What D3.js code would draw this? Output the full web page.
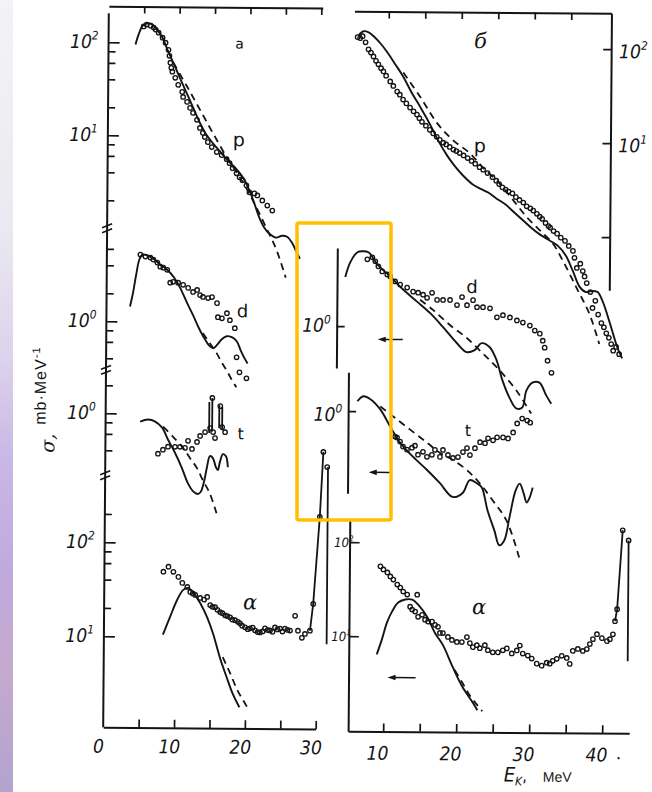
<!DOCTYPE html>
<html>
<head>
<meta charset="utf-8">
<script src="https://cdn.jsdelivr.net/npm/d3@7/dist/d3.min.js"></script>
<style>
  html, body { margin: 0; padding: 0; background: #ffffff; }
  svg { display: block; }
</style>
</head>
<body>
<svg id="fig" width="652" height="792"></svg>
<script>
// Energy spectra of p, d, t and alpha particles: points = experiment,
// solid = calculation, dashed = equilibrium (evaporation) estimate.
// Each pair is [E (MeV), sigma (mb/MeV)].

// ---------- panel a (left) ----------
const pA_exp = [[4.94,149],[5.36,156],[5.93,152],[6.35,145],[6.64,138],[7.06,128],[7.62,113],[8.05,100],[8.47,84],[8.61,72.4],[8.75,61],[8.89,53.8],[9.04,48.8],[9.46,42],[9.88,35.3],[10.45,29.7],[10.59,26.2],[11.15,23.2],[11.58,20],[12.0,17.7],[12.57,14.9],[12.99,12.2],[13.41,10.8],[13.69,9.75],[14.12,8.6],[14.68,7.62],[15.39,6.73],[16.09,6.25],[16.8,5.66],[17.22,5.13],[17.65,4.53],[18.21,4.0],[18.64,3.62],[19.06,3.37],[19.62,2.97],[20.05,2.5],[20.75,2.44],[21.18,2.32],[21.88,2.05],[22.59,1.81],[23.3,1.6]];
const pA_calc = [[3.81,95],[4.24,122],[4.8,152],[5.36,160],[5.93,160],[6.49,149],[7.06,131],[7.62,113],[8.33,84],[9.04,64],[9.6,51.3],[10.17,41],[10.87,31.3],[11.58,23.8],[12.28,18.1],[12.99,13.8],[13.84,10.5],[14.82,8.4],[15.81,6.9],[16.94,5.5],[18.07,4.53],[19.2,3.53],[20.05,2.62],[20.75,1.91],[21.46,1.35],[22.17,1.05],[22.87,0.906],[23.86,0.82],[24.71,0.86],[25.41,0.84],[26.12,0.725],[26.68,0.594],[27.25,0.488]];
const pA_equil = [[9.18,61],[11.15,33.7],[12.99,19.1],[14.82,10.8],[16.8,5.94],[18.21,4.1],[19.62,2.76],[21.04,1.73],[22.45,1.05],[23.86,0.625],[25.27,0.305]];

const dA_exp = [[4.73,5.25],[5.44,5.0],[6.14,4.88],[6.57,4.64],[7.13,4.31],[7.55,3.9],[7.98,3.81],[8.54,3.62],[8.97,2.63],[9.39,2.69],[10.09,2.63],[10.8,2.5],[11.51,2.32],[12.21,2.1],[12.78,2.21],[13.2,1.95],[13.62,1.86],[14.33,1.81],[14.89,1.86],[15.6,1.6],[15.74,1.13],[16.31,1.1],[17.01,1.25],[17.44,1.05],[18.14,0.862],[18.42,0.42],[18.85,0.29],[19.84,0.25]];
const dA_calc = [[3.32,1.45],[3.74,2.05],[4.16,3.2],[4.59,4.64],[5.01,5.25],[5.72,5.13],[6.57,4.76],[7.55,4.1],[8.54,3.62],[9.53,2.97],[10.38,2.32],[11.37,1.6],[12.21,1.19],[13.06,0.862],[13.91,0.656],[14.61,0.552],[15.18,0.525],[15.74,0.58],[16.31,0.656],[17.01,0.707],[17.72,0.69],[18.42,0.625],[18.99,0.5],[19.55,0.41],[19.98,0.362]];
const dA_equil = [[13.62,0.762],[14.61,0.594],[15.6,0.464],[16.31,0.371],[17.01,0.305],[17.72,0.244],[18.42,0.2]];

const tA_exp = [[7.43,0.371],[8.13,0.41],[8.84,0.442],[9.83,0.442],[10.53,0.442],[11.24,0.431],[11.66,0.513],[12.23,0.42],[12.93,0.5],[13.36,0.58],[14.06,0.64],[14.77,0.707],[15.05,1.49],[15.19,0.64],[15.47,0.552],[16.18,1.22],[16.46,0.725],[16.88,0.64]];
// narrow peaks: [E, top, bottom]
const tA_peaks = [[14.63,1.35,0.625],[15.05,1.49,0.65],[16.04,1.25,0.71],[16.46,1.19,0.67]];
const tA_calc = [[4.88,0.82],[6.01,0.862],[7.0,0.82],[7.99,0.707],[8.84,0.525],[9.83,0.381],[10.81,0.263],[11.66,0.181],[12.37,0.149],[13.07,0.138],[13.5,0.145],[13.92,0.181],[14.34,0.263],[14.77,0.353],[15.19,0.336],[15.62,0.269],[15.9,0.25],[16.18,0.305],[16.6,0.371],[17.03,0.353],[17.31,0.269]];
const tA_equil = [[8.13,0.725],[9.54,0.566],[10.96,0.431],[11.94,0.336],[12.93,0.263],[13.78,0.195],[14.77,0.1415],[15.76,0.086]];

const aA_exp = [[8.33,49.1],[9.04,55.6],[9.74,49.1],[10.45,43.4],[11.01,37.5],[11.72,34],[12.14,30.1],[12.5,29],[12.85,28],[13.55,26],[14.1,25],[14.54,26.7],[14.97,21.9],[15.3,21],[15.67,20.8],[16.0,19.5],[16.38,18.5],[16.7,18],[17.08,17.1],[17.4,16.8],[17.79,16.3],[18.1,15.4],[18.5,15.2],[18.9,14.6],[19.2,14.1],[19.5,13.3],[19.91,12.8],[20.3,12.2],[20.61,12.5],[21.0,12.7],[21.32,11.9],[21.7,11.4],[22.02,11.3],[22.4,11.6],[22.73,12.5],[23.1,12.0],[23.44,11.9],[23.8,11.5],[24.14,12.8],[24.5,12.2],[24.85,12.5],[25.2,11.6],[25.55,12.5],[25.9,12.1],[26.26,11.9],[26.97,17.1],[27.39,11.9],[27.95,10],[28.38,11],[29.08,11.9],[29.51,23],[30.35,194],[30.78,953],[31.34,659]];
const aA_peak = [[29.08,11.9],[29.51,23],[30.35,194],[30.78,953]];
const aA_drop = [[31.45,659],[31.45,8.6]];
const aA_calc = [[8.33,10.5],[9.32,16.3],[10.31,24.8],[11.15,31.6],[11.86,33.2],[12.57,29.4],[13.55,23],[14.54,16.3],[15.39,11],[16.38,6.12],[17.37,3.75],[18.21,2.54],[19.2,1.8]];
const aA_equil = [[16.8,6.12],[17.79,4.25],[18.92,2.73],[20.33,1.8]];

// ---------- panel б (right) ----------
const pB_exp = [[5.75,128],[6.1,125],[6.44,131],[6.85,113],[7.26,95],[7.6,88],[7.95,80],[8.3,72],[8.63,66],[9.0,60],[9.32,55.6],[9.7,50],[10.27,43.5],[10.7,39],[11.23,34],[11.6,31.5],[12.05,28],[12.5,25.5],[13.01,23],[13.5,21],[13.97,19.4],[14.3,17.8],[14.66,16.3],[15.2,14.8],[15.75,13.4],[16.2,12.3],[16.7,11.3],[17.12,10.5],[17.6,9.8],[18.0,9.4],[18.49,8.85],[19.0,8.3],[19.4,8.0],[19.86,7.64],[20.4,7.2],[20.96,6.76],[21.5,6.3],[22.0,5.9],[22.6,5.42],[23.1,5.1],[23.7,4.7],[24.38,4.25],[24.9,3.9],[25.3,3.6],[25.75,3.32],[26.2,3.15],[26.6,3.0],[27.12,2.87],[27.6,2.62],[28.1,2.45],[28.63,2.3],[29.1,2.1],[29.6,2.0],[30.0,1.89],[30.5,1.75],[30.9,1.63],[31.23,1.55],[31.7,1.4],[32.1,1.3],[32.33,1.25],[32.8,1.15],[33.29,1.08],[33.8,0.98],[34.38,0.906],[34.9,0.8],[35.48,0.71],[35.7,0.6],[36.03,0.468],[36.5,0.52],[36.85,0.434],[37.1,0.38],[37.4,0.324],[37.9,0.26],[38.22,0.176],[38.6,0.21],[39.0,0.15],[39.45,0.122],[39.8,0.11],[40.14,0.095],[40.5,0.085],[40.82,0.073],[41.1,0.062],[41.5,0.068],[41.92,0.057]];
const pB_calc = [[5.89,134],[6.58,148],[7.26,144],[7.95,131],[8.9,110],[9.86,88.5],[10.96,66],[12.05,49],[13.15,34],[14.38,23.6],[15.34,17.6],[16.16,13.4],[16.85,10.5],[18.08,7.28],[19.18,5.56],[20.27,4.46],[21.64,3.57],[22.88,3.16],[23.97,2.87],[24.93,2.53],[26.16,2.19],[27.26,1.84],[28.63,1.48],[29.86,1.22],[30.96,1.05],[32.33,0.906],[33.42,0.8],[34.52,0.628],[35.48,0.434],[36.44,0.294],[37.26,0.26],[38.08,0.267],[38.9,0.26],[39.59,0.208],[40.27,0.148],[40.96,0.1],[41.64,0.068],[42.33,0.0516]];
const pB_equil = [[12.05,54.2],[14.38,30.1],[16.71,15.9],[18.9,10.5],[21.23,7.64],[23.01,5.42],[25.34,3.66],[27.26,2.42],[29.18,1.59],[30.96,1.16],[32.74,0.843],[34.11,0.556],[36.03,0.286],[37.81,0.152],[39.18,0.0728]];

const dB_exp = [[7.33,5.25],[8.01,5.52],[8.42,5.0],[8.84,4.42],[9.38,3.9],[10.07,3.62],[10.48,3.45],[11.16,3.05],[11.85,2.83],[12.81,2.63],[13.63,2.38],[14.32,2.32],[15.0,2.21],[15.55,2.05],[16.23,2.32],[16.92,1.95],[17.74,1.95],[18.7,1.95],[19.66,1.72],[20.34,2.1],[21.03,1.72],[21.85,1.95],[22.4,1.64],[23.22,1.64],[24.18,1.6],[25.14,1.28],[25.96,1.35],[26.92,1.28],[27.88,1.19],[28.7,1.13],[29.66,1.05],[30.34,0.929],[31.03,0.862],[31.44,0.725],[31.71,0.61],[32.12,0.442],[32.67,0.328]];
const dB_calc = [[4.32,3.37],[5.0,4.88],[5.96,6.25],[6.64,6.4],[7.47,6.25],[8.7,4.64],[10.48,3.45],[12.26,2.5],[14.18,1.86],[15.96,1.41],[17.74,1.0],[19.66,0.673],[21.03,0.538],[22.12,0.566],[23.08,0.673],[24.18,0.61],[25.14,0.442],[25.96,0.269],[26.92,0.177],[27.88,0.135],[28.7,0.138],[29.25,0.21],[30.07,0.256],[31.03,0.256],[31.99,0.186],[32.67,0.152]];
const dB_equil = [[14.59,1.95],[16.37,1.52],[18.7,1.05],[21.03,0.762],[23.22,0.525],[25.55,0.345],[27.88,0.21],[29.93,0.119]];

const tB_exp = [[11.32,0.538],[11.59,0.525],[12.0,0.476],[12.41,0.42],[12.96,0.39],[13.64,0.41],[14.05,0.431],[14.47,0.345],[15.15,0.371],[15.7,0.328],[16.38,0.345],[16.79,0.39],[17.48,0.328],[17.89,0.39],[18.58,0.345],[19.26,0.32],[19.95,0.328],[20.63,0.371],[21.18,0.41],[21.59,0.345],[22.27,0.41],[22.96,0.476],[23.64,0.464],[24.05,0.525],[24.74,0.5],[25.29,0.538],[26.11,0.538],[26.79,0.525],[27.48,0.61],[28.03,0.762],[28.71,0.862],[29.4,0.82],[29.81,0.78]];
const tB_calc = [[6.11,1.28],[6.93,1.45],[7.89,1.35],[9.26,1.05],[10.63,0.69],[12.0,0.464],[13.78,0.328],[15.7,0.238],[17.48,0.172],[19.26,0.122],[20.63,0.135],[21.59,0.186],[22.55,0.172],[23.23,0.156],[24.05,0.0883],[25.01,0.0538],[25.7,0.0372],[26.38,0.042],[27.07,0.0743],[27.89,0.145],[28.44,0.172],[28.99,0.135],[29.4,0.108],[29.81,0.122],[30.22,0.156]];
const tB_equil = [[9.26,1.13],[11.04,0.884],[13.37,0.64],[15.7,0.464],[17.48,0.362],[19.26,0.305],[21.18,0.238],[22.96,0.172],[24.74,0.113],[26.66,0.069],[28.44,0.0276]];

const aB_exp = [[9.45,55.6],[9.86,51.6],[10.41,48],[10.82,43.5],[11.23,40.4],[11.78,35.7],[12.19,33.2],[12.6,30.1],[13.15,28],[13.56,20.8],[13.84,19.4],[14.25,18.5],[14.52,28],[14.66,16.3],[15.21,17.1],[15.62,15.2],[16.03,14.5],[16.58,14.5],[16.99,13.4],[17.4,12.8],[17.67,11],[18.08,11],[18.77,10],[19.32,9.3],[20.0,8.85],[20.68,8.85],[21.37,10],[21.78,8.63],[22.19,7.83],[22.74,8.22],[23.15,7.64],[23.84,8.22],[24.25,7.28],[24.93,6.92],[25.62,6.92],[26.3,7.28],[26.85,7.64],[27.53,6.76],[28.22,7.28],[28.63,8.22],[29.04,6.76],[29.73,6.44],[30.27,5.98],[30.96,5.29],[31.64,5.04],[32.33,5.42],[32.74,5.29],[33.15,5.69],[33.7,5.98],[34.38,6.44],[35.07,6.12],[35.48,5.29],[35.89,7.28],[36.58,7.64],[37.26,7.28],[37.81,7.64],[38.22,8.63],[38.63,9.75],[39.18,11],[39.86,10],[40.55,9.3],[40.96,9.75],[41.37,11],[41.64,15.2],[41.92,20.4],[42.6,141],[43.42,110]];
const aB_peak = [[41.64,15.2],[41.92,20.4],[42.6,141]];
const aB_drop = [[43.42,110],[43.42,5.7]];
const aB_calc = [[9.04,6.44],[9.73,9.3],[10.41,14.1],[11.1,18.5],[11.92,23],[12.88,24.8],[13.84,24.8],[14.66,21.9],[15.89,16.3],[16.99,11],[18.08,8.22],[19.45,4.8],[20.82,2.94],[22.19,2.04],[22.88,1.67]];
const aB_equil = [[19.73,4.46],[20.82,3.24],[21.78,2.42],[22.74,1.94],[23.56,1.63]];

// arrows: [E from, E to, sigma]
const dB_arrow = [8.84, 12.26, 0.725];
const tB_arrow = [7.75, 10.63, 0.221];
const aB_arrow = [10.55, 14.38, 3.66];

// tick values
const xTickMinorA = [5, 10, 15, 20, 25, 30];
const xTickLabelsA = [0, 10, 20, 30];
const xTickMinorB = [10, 15, 20, 25, 30, 35, 40];
const xTickTopB = [10, 15, 20, 25, 30, 35];
const xTickLabelsB = [10, 20, 30, 40];
const pA_major = [100, 10], pA_minor = [80, 60, 40, 20, 8, 6, 4, 2];
const dA_major = [1], dA_minor = [6, 4, 2, 0.8, 0.6, 0.4];
const tA_major = [1], tA_minor = [2, 0.8, 0.6, 0.4];
const aA_major = [100, 10], aA_minor = [200, 80, 60, 40, 20];
const pB_major = [100, 10, 1];
const aB_major = [100, 10];

// ---------- drawing ----------
const INK = "#141414";
const NUM_FONT = "'DejaVu Sans Condensed','DejaVu Sans',sans-serif";
const svg = d3.select("#fig");

// scanned-page edge on the left
const defs = svg.append("defs");
const grad = defs.append("linearGradient").attr("id", "edge")
  .attr("x1", 0).attr("y1", 0).attr("x2", 0).attr("y2", 1);
[[0, "#f3f3f7"], [0.28, "#ebe9f1"], [0.45, "#ddd3ec"], [0.58, "#c9b7e6"],
 [0.72, "#bfaadd"], [0.84, "#c6a9cf"], [1, "#b2a3cf"]]
  .forEach(([o, c]) => grad.append("stop").attr("offset", o).attr("stop-color", c));
svg.append("rect").attr("x", 0).attr("y", 0).attr("width", 13).attr("height", 792)
  .attr("fill", "url(#edge)");

const fig = svg.append("g").attr("transform", "rotate(0.45 330 370)");

// scales
const xL = d3.scaleLinear().domain([0, 30]).range([106, 318.5]);
const xR = d3.scaleLinear().domain([10, 40]).range([386, 605]);
const logScale = (ref, yRef, dec) => d3.scaleLog().domain([ref / 10, ref]).range([yRef + dec, yRef]);
const yLp = logScale(100, 44, 93);
const yLd = logScale(1, 323, 93);
const yLt = logScale(1, 415, 93);
const yLa = logScale(100, 544, 94);
const yRp = logScale(100, 47, 94);
const yRd = logScale(1, 326, 93);
const yRt = logScale(1, 411, 93);
const yRa = logScale(100, 542, 94);
const sub = (s, a, b) => s.copy().domain([a, b]).range([s(a), s(b)]);

function styleAxis(g, w) {
  g.attr("font-family", null).attr("font-size", null);
  g.select(".domain").attr("stroke", INK).attr("stroke-width", w || 2).attr("fill", "none");
  g.selectAll(".tick line").attr("stroke", INK).attr("stroke-width", 1.7);
}

function drawSet(xs, ys, exp, calc, equil) {
  const line = d3.line().x(d => xs(d[0])).y(d => ys(d[1])).curve(d3.curveCatmullRom.alpha(0.5));
  if (equil) fig.append("path").attr("d", line(equil)).attr("fill", "none")
    .attr("stroke", INK).attr("stroke-width", 1.8).attr("stroke-dasharray", "7,5");
  if (calc) fig.append("path").attr("d", line(calc)).attr("fill", "none")
    .attr("stroke", INK).attr("stroke-width", 1.9);
  if (exp) fig.append("g").selectAll("circle").data(exp).join("circle")
    .attr("cx", d => xs(d[0])).attr("cy", d => ys(d[1])).attr("r", 2.2)
    .attr("fill", "none").attr("stroke", INK).attr("stroke-width", 1.35);
}
function drawPolyline(xs, ys, pts) {
  const line = d3.line().x(d => xs(d[0])).y(d => ys(d[1]));
  fig.append("path").attr("d", line(pts)).attr("fill", "none")
    .attr("stroke", INK).attr("stroke-width", 1.8);
}
function drawArrow(xs, ys, a) {
  const x1 = xs(a[0]), x2 = xs(a[1]), y = ys(a[2]);
  fig.append("line").attr("x1", x1 + 4).attr("x2", x2).attr("y1", y).attr("y2", y)
    .attr("stroke", INK).attr("stroke-width", 1.5);
  fig.append("path").attr("d", `M${x1},${y}L${x1 + 8},${y - 2.8}L${x1 + 8},${y + 2.8}Z`).attr("fill", INK);
}
function powLabel(x, y, sup, size, anchor) {
  const t = fig.append("text").attr("x", x).attr("y", y).attr("text-anchor", anchor)
    .attr("font-family", NUM_FONT).attr("font-style", "italic")
    .attr("font-size", size).attr("fill", INK);
  t.append("tspan").text("10");
  t.append("tspan").attr("dy", -size * 0.45).attr("font-size", size * 0.62).text(sup);
}
function label(txt, x, y, size, family, style) {
  fig.append("text").attr("x", x).attr("y", y).attr("text-anchor", "middle")
    .attr("font-family", family).attr("font-style", style || "normal")
    .attr("font-size", size).attr("fill", INK).text(txt);
}

// ----- left axis (panel a) -----
const xA0 = xL(0);
fig.append("line").attr("x1", xA0).attr("x2", xA0).attr("y1", 15).attr("y2", 729)
  .attr("stroke", INK).attr("stroke-width", 2);
function yTicksRight(x0, scale, major, minor) {
  fig.append("g").attr("transform", `translate(${x0},0)`)
    .call(d3.axisRight(scale).tickValues(major).tickSize(11).tickFormat(""))
    .call(g => g.select(".domain").remove()).call(styleAxis);
  if (minor) fig.append("g").attr("transform", `translate(${x0},0)`)
    .call(d3.axisRight(scale).tickValues(minor).tickSize(7).tickFormat(""))
    .call(g => g.select(".domain").remove()).call(styleAxis);
}
yTicksRight(xA0, yLp, pA_major, pA_minor);
yTicksRight(xA0, yLd, dA_major, dA_minor);
yTicksRight(xA0, yLt, tA_major, tA_minor);
yTicksRight(xA0, yLa, aA_major, aA_minor);
// axis breaks
[yLp(1), yLd(0.3), yLt(0.215)].forEach(y => {
  [-2.5, 2.5].forEach(o => fig.append("line")
    .attr("x1", xA0 - 5).attr("x2", xA0 + 5).attr("y1", y + o + 2).attr("y2", y + o - 2)
    .attr("stroke", INK).attr("stroke-width", 1.6));
});
powLabel(xA0 - 10, yLp(100) + 6, "2", 19, "end");
powLabel(xA0 - 10, yLp(10) + 6, "1", 19, "end");
powLabel(xA0 - 10, yLd(1) + 6, "0", 19, "end");
powLabel(xA0 - 10, yLt(1) + 6, "0", 19, "end");
powLabel(xA0 - 10, yLa(100) + 6, "2", 19, "end");
powLabel(xA0 - 10, yLa(10) + 6, "1", 19, "end");

// top and bottom axes of panel a
fig.append("g").attr("transform", "translate(0,8)")
  .call(d3.axisBottom(sub(xL, 0, 30.2)).tickValues(xTickMinorA).tickSize(7).tickSizeOuter(0).tickFormat(""))
  .call(styleAxis);
fig.append("g").attr("transform", "translate(0,729)")
  .call(d3.axisTop(sub(xL, 0, 30)).tickValues(xTickMinorA).tickSize(8).tickSizeOuter(0).tickFormat(""))
  .call(styleAxis);
fig.append("g").attr("transform", "translate(0,729)")
  .call(d3.axisBottom(xL).tickValues(xTickLabelsA).tickSize(0).tickPadding(12).tickFormat(d3.format("d")))
  .call(g => g.select(".domain").remove())
  .call(g => g.selectAll("text").attr("dx", -5).attr("font-family", NUM_FONT)
    .attr("font-style", "italic").attr("font-size", 19).attr("fill", INK));

// ----- panel б axes -----
fig.append("g").attr("transform", "translate(0,11)")
  .call(d3.axisBottom(sub(xR, 5.3, 40.5)).tickValues(xTickTopB).tickSize(7).tickSizeOuter(0).tickFormat(""))
  .call(styleAxis);
fig.append("g").attr("transform", `translate(${xR(40.5)},0)`)
  .call(d3.axisLeft(sub(yRp, yRp.invert(288), yRp.invert(11))).tickValues(pB_major).tickSize(8).tickSizeOuter(0).tickFormat(""))
  .call(styleAxis);
powLabel(xR(40.5) + 8, yRp(100) + 9, "2", 19, "start");
powLabel(xR(40.5) + 8, yRp(10) + 9, "1", 19, "start");

fig.append("g").attr("transform", "translate(0,731)")
  .call(d3.axisTop(sub(xR, 5.2, 43.7)).tickValues(xTickMinorB).tickSize(8).tickSizeOuter(0).tickFormat(""))
  .call(styleAxis);
fig.append("g").attr("transform", "translate(0,731)")
  .call(d3.axisBottom(xR).tickValues(xTickLabelsB).tickSize(0).tickPadding(15).tickFormat(d3.format("d")))
  .call(g => g.select(".domain").remove())
  .call(g => g.selectAll("text").attr("dx", -6).attr("font-family", NUM_FONT)
    .attr("font-style", "italic").attr("font-size", 19).attr("fill", INK));
fig.append("text").attr("x", xR(41.9)).attr("y", 757).attr("font-family", NUM_FONT)
  .attr("font-size", 19).attr("fill", INK).text(".");

// small vertical axes of the d, t, alpha spectra in panel б
function subAxis(xE, scale, yTop, yBot, ticks, size) {
  fig.append("g").attr("transform", `translate(${xR(xE)},0)`)
    .call(d3.axisRight(sub(scale, scale.invert(yBot), scale.invert(yTop))).tickValues(ticks)
      .tickSize(size).tickSizeOuter(0).tickFormat(""))
    .call(styleAxis);
}
subAxis(3.2, yRd, 248, 368, [1], 8);
subAxis(4.86, yRt, 372, 493, [1], 8);
subAxis(5.2, yRa, 518, 731, aB_major, 10);
powLabel(xR(3.2) - 6, yRd(1) + 6, "0", 19, "end");
powLabel(xR(4.86) - 6, yRt(1) + 10, "0", 19, "end");
powLabel(xR(5.2) + 4, yRa(100) + 5, "2", 13, "end");
powLabel(xR(5.2) + 2, yRa(10) + 5, "1", 13, "end");

// ----- spectra -----
drawSet(xL, yLp, pA_exp, pA_calc, pA_equil);
drawSet(xL, yLd, dA_exp, dA_calc, dA_equil);
drawSet(xL, yLt, tA_exp, tA_calc, tA_equil);
tA_peaks.forEach(p => drawPolyline(xL, yLt, [[p[0], p[1]], [p[0], p[2]]]));
drawSet(xL, yLa, aA_exp, aA_calc, aA_equil);
drawPolyline(xL, yLa, aA_peak);
drawPolyline(xL, yLa, aA_drop);

drawSet(xR, yRp, pB_exp, pB_calc, pB_equil);
drawSet(xR, yRd, dB_exp, dB_calc, dB_equil);
drawSet(xR, yRt, tB_exp, tB_calc, tB_equil);
drawSet(xR, yRa, aB_exp, aB_calc, aB_equil);
drawPolyline(xR, yRa, aB_peak);
drawPolyline(xR, yRa, aB_drop);
drawArrow(xR, yRd, dB_arrow);
drawArrow(xR, yRt, tB_arrow);
drawArrow(xR, yRa, aB_arrow);

// ----- curve and panel labels -----
const SANS = "'DejaVu Sans',sans-serif";
const SERIF = "'DejaVu Serif','Liberation Serif',serif";
label("a", xL(18.5), yLp(88), 14, SANS);
label("p", xL(18.5), yLp(7.8), 19, SANS);
label("d", xL(19.2), yLd(1.13), 18, SANS);
label("t", xL(19.1), yLt(0.538), 16, SANS);
label("α", xL(20.6), yLa(19.9), 21, SERIF, "italic");
label("б", xR(22.6), yRp(100), 21, SERIF, "italic");
label("p", xR(22.6), yRp(7.8), 19, SANS);
label("d", xR(21.7), yRd(2.32), 18, SANS);
label("t", xR(21.3), yRt(0.552), 16, SANS);
label("α", xR(23.0), yRa(17.6), 21, SERIF, "italic");

// axis titles
const yTitle = fig.append("g").attr("transform", "translate(55,455) rotate(-90)");
yTitle.append("text").attr("x", 0).attr("y", 0).attr("font-family", SERIF)
  .attr("font-style", "italic").attr("font-size", 19).attr("fill", INK).text("σ,");
const unit = yTitle.append("text").attr("x", 28).attr("y", -9).attr("font-family", "'Liberation Sans',Arial,sans-serif")
  .attr("font-size", 16).attr("letter-spacing", 1).attr("fill", INK);
unit.append("tspan").text("mb·MeV");
unit.append("tspan").attr("dy", -6).attr("font-size", 11).text("-1");

const xTitle = fig.append("text").attr("x", 507).attr("y", 780).attr("fill", INK);
xTitle.append("tspan").attr("font-family", NUM_FONT).attr("font-style", "italic").attr("font-size", 20).text("E");
xTitle.append("tspan").attr("font-family", NUM_FONT).attr("font-style", "italic").attr("font-size", 12).attr("dy", 4).text("K");
xTitle.append("tspan").attr("font-family", NUM_FONT).attr("font-size", 16).attr("dy", -4).text(",");
xTitle.append("tspan").attr("x", 546).attr("font-family", "'Liberation Sans',Arial,sans-serif").attr("font-size", 14).text("MeV");

// highlight frame around the small d and t axes
svg.append("rect").attr("x", 297).attr("y", 223).attr("width", 94).attr("height", 297)
  .attr("rx", 2).attr("fill", "none").attr("stroke", "#ffc000").attr("stroke-width", 3.5);
</script>
</body>
</html>
